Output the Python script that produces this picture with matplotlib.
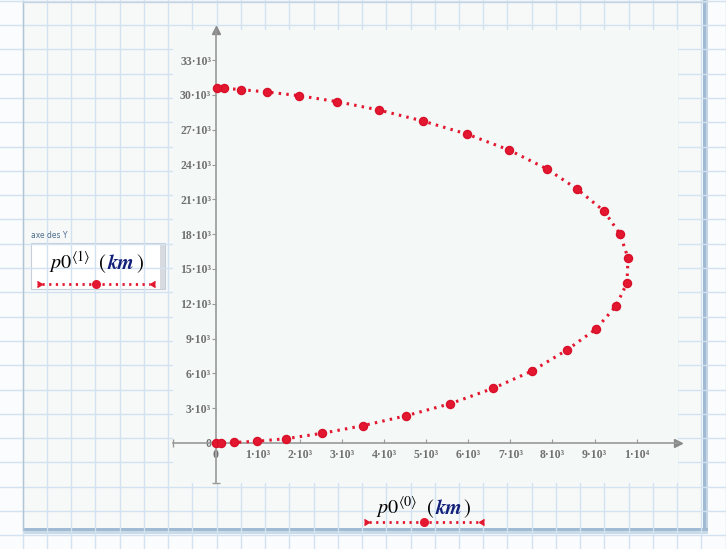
import matplotlib.pyplot as plt
from matplotlib.patches import Rectangle

# trajectoire p0 : colonne 0 (abscisse, km) et colonne 1 (ordonnee, km)
p0_x = [0, 110, 435, 968, 1664, 2527, 3488, 4525, 5571, 6593, 7513, 8345, 9035, 9510, 9772,
        9796, 9605, 9225, 8583, 7870, 6966, 5961, 4914, 3868, 2884, 1973, 1205, 602, 197, 17]
p0_y = [0, 10, 50, 150, 370, 836, 1491, 2353, 3388, 4716, 6207, 8017, 9828, 11810, 13793,
        15948, 18017, 20000, 21897, 23621, 25259, 26638, 27759, 28707, 29422, 29940, 30259,
        30457, 30578, 30578]

x_ticks = [0, 1000, 2000, 3000, 4000, 5000, 6000, 7000, 8000, 9000, 10000]
x_labels = ["0", "1·10³", "2·10³", "3·10³", "4·10³", "5·10³", "6·10³", "7·10³", "8·10³", "9·10³", "1·10⁴"]
y_ticks = [0, 3000, 6000, 9000, 12000, 15000, 18000, 21000, 24000, 27000, 30000, 33000]
y_labels = ["0", "3·10³", "6·10³", "9·10³", "12·10³", "15·10³", "18·10³", "21·10³",
            "24·10³", "27·10³", "30·10³", "33·10³"]

RED = "#e3172f"
GREY = "#999999"
SERIF = ["Liberation Serif", "DejaVu Serif"]
plt.rcParams["mathtext.fontset"] = "stix"

W, H = 726, 549
fig = plt.figure(figsize=(W / 100, H / 100), dpi=100, facecolor="#fbfcfd")

# fond "papier quadrille" en coordonnees pixels
bg = fig.add_axes([0, 0, 1, 1])
bg.set_xlim(0, W)
bg.set_ylim(H, 0)
bg.axis("off")
k = 0
while 22.7 + 24.24 * (k - 1) < W + 30:
    bg.axvline(22.7 + 24.24 * (k - 1), color="#d2e2f0", lw=1)
    bg.axhline(0.7 + 24.3 * k, color="#d2e2f0", lw=1)
    k += 1
bg.add_patch(Rectangle((22.7, 1.5), 682, 527, facecolor="#f4f8f6", alpha=0.5, edgecolor="none"))
bg.plot([22.7, 22.7], [1.5, 530], color="#b3c4d3", lw=1)
bg.plot([22.7, 705], [1.5, 1.5], color="#c7d5e1", lw=1)
bg.add_patch(Rectangle((702.5, 0), 3, 533, facecolor="#9fbad2", edgecolor="none"))
bg.add_patch(Rectangle((705.5, 0), 2.5, 533, facecolor="#c3d5e5", edgecolor="none"))
bg.add_patch(Rectangle((22.7, 527.5), 685, 3.5, facecolor="#9fbad2", edgecolor="none"))
bg.add_patch(Rectangle((22.7, 531), 685, 3, facecolor="#c9dae8", edgecolor="none"))

# legende de l'axe Y (boite)
bg.text(31, 238, "axe des Y", fontsize=5.5, color="#4d6d8c", va="baseline")
bg.add_patch(Rectangle((31, 243), 134, 46, facecolor="white", edgecolor="#c5cfd8", lw=0.8))
bg.add_patch(Rectangle((159.5, 243.5), 5, 45, facecolor="#d7dbdf", edgecolor="none"))


def legende(x0, yb, yl, xl0, xl1, num):
    bg.text(x0, yb, r"$p0^{\langle %d\rangle}$" % num, fontsize=14.5, color="black", va="baseline")
    bg.text(x0 + 50, yb, "(", fontsize=15, family="STIXGeneral", va="baseline")
    bg.text(x0 + 58.5, yb, "km", fontsize=15, family="STIXGeneral", style="italic",
            weight="bold", color="#13207a", va="baseline")
    bg.text(x0 + 87, yb, ")", fontsize=15, family="STIXGeneral", va="baseline")
    bg.plot([xl0, xl1], [yl, yl], color=RED, lw=2, ls=(0, (0.8, 1.6)))
    bg.plot([(xl0 + xl1) / 2], [yl], "o", color=RED, ms=5.5)
    bg.plot([xl0], [yl], marker=5, color=RED, ms=4.5)
    bg.plot([xl1], [yl], marker=4, color=RED, ms=4.5)


legende(49, 269, 284.3, 42, 150, 1)
legende(376.5, 514.5, 522.3, 369, 478.5, 0)

# graphique principal
left, right, top, bottom = 173, 678, 30, 483
ax = fig.add_axes([left / W, 1 - bottom / H, (right - left) / W, (bottom - top) / H])
ax.set_facecolor("#f4f8f6")
ax.plot(p0_x, p0_y, color=RED, lw=2.2, ls=(0, (0.8, 1.7)), marker="o", ms=5.8,
        markeredgecolor="#d8102a", zorder=3, clip_on=False)
ax.set_xlim(-1022, 10985)
ax.set_ylim(-3448, 35600)

for s in ["top", "right"]:
    ax.spines[s].set_visible(False)
for s in ["left", "bottom"]:
    ax.spines[s].set_position(("data", 0))
    ax.spines[s].set_color(GREY)
    ax.spines[s].set_linewidth(1.2)

ax.set_xticks(x_ticks)
ax.set_xticklabels(x_labels, family=SERIF, fontsize=8.5, color="#707070", weight="bold")
ax.set_yticks(y_ticks)
ax.set_yticklabels(y_labels, family=SERIF, fontsize=8.5, color="#707070", weight="bold")
ax.tick_params(axis="x", direction="in", length=3, pad=4, color=GREY)
ax.tick_params(axis="y", direction="out", length=3, pad=0.5, color=GREY)
# l'etiquette 0 de l'axe X coupe l'axe Y
ax.get_xticklabels()[0].set_bbox(dict(facecolor="#f4f8f6", edgecolor="none", pad=1))
ax.get_xticklabels()[0].set_zorder(4)

xmin, xmax = ax.get_xlim()
ymin, ymax = ax.get_ylim()
ax.plot([xmax], [0], marker=">", color="#8a8a8a", ms=6, clip_on=False)
ax.plot([0], [ymax], marker="^", color="#8a8a8a", ms=6, clip_on=False)
ax.plot([xmin], [0], marker="|", color=GREY, ms=6, clip_on=False)
ax.plot([0], [ymin], marker="_", color=GREY, ms=6, clip_on=False)

fig.savefig("out.png", dpi=100, facecolor=fig.get_facecolor())
